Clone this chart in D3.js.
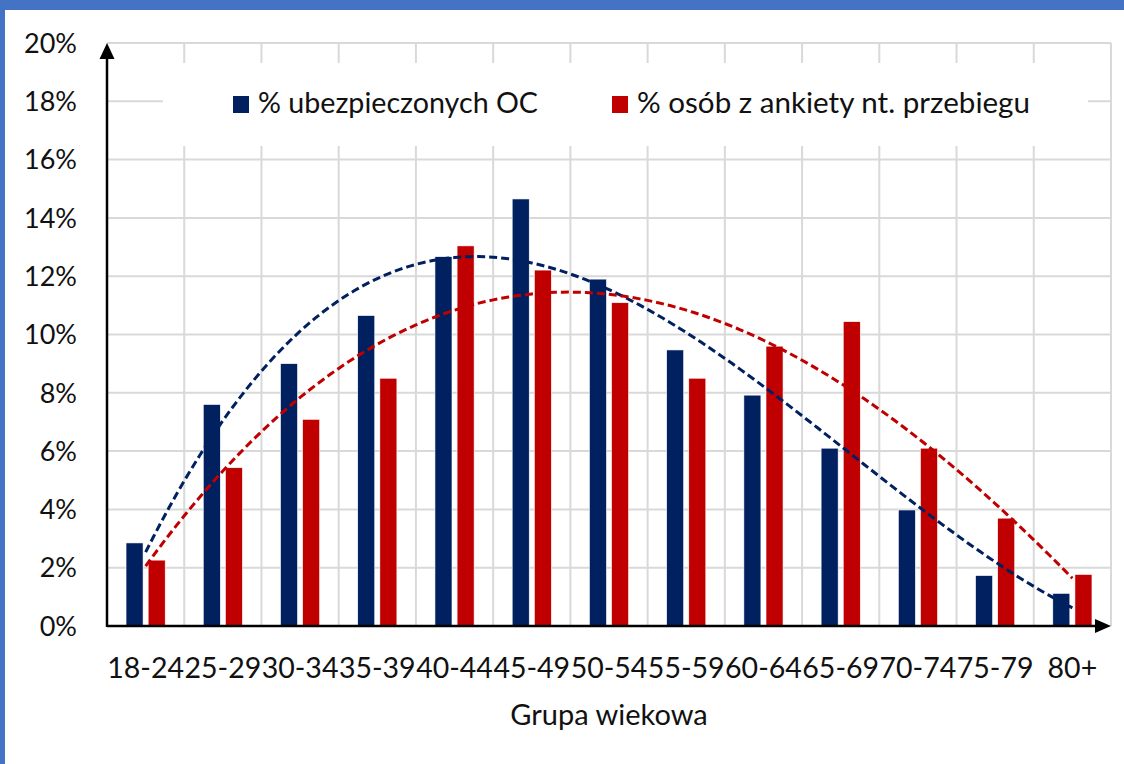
<!DOCTYPE html>
<html lang="pl">
<head>
<meta charset="UTF-8">
<title>Grupa wiekowa</title>
<script src="https://cdn.jsdelivr.net/npm/d3@7"></script>
<style>
  body { margin: 0; background: #4472c4; overflow: hidden; }
  svg { display: block; }
  text { font-family: Lato, "Open Sans", sans-serif; fill: #111; }
</style>
</head>
<body>
<div class="chart"></div>
<script>
const categories = ["18-24", "25-29", "30-34", "35-39", "40-44", "45-49", "50-54",
                    "55-59", "60-64", "65-69", "70-74", "75-79", "80+"];
const insured = [2.85, 7.6, 9.0, 10.65, 12.67, 14.65, 11.9, 9.47, 7.92, 6.1, 3.98, 1.73, 1.12];
const survey  = [2.26, 5.43, 7.09, 8.5, 13.04, 12.21, 11.09, 8.5, 9.6, 10.44, 6.1, 3.7, 1.77];
const seriesNames = ["% ubezpieczonych OC", "% osób z ankiety nt. przebiegu"];
const seriesColors = ["#002060", "#c00000"];
const yTicks = [0, 2, 4, 6, 8, 10, 12, 14, 16, 18, 20];
const xTitle = "Grupa wiekowa";

const width = 1124, height = 764;
const plotLeft = 107, plotRight = 1111, plotTop = 43, plotBottom = 626;

const svg = d3.select(".chart").append("svg")
  .attr("width", width)
  .attr("height", height);

// white panel inside the blue frame
svg.append("rect")
  .attr("x", 5).attr("y", 10)
  .attr("width", width).attr("height", height)
  .attr("fill", "#fff");

const x0 = d3.scaleBand().domain(categories).range([plotLeft, plotRight]);
const x1 = d3.scaleBand().domain([0, 1]).range([0, x0.bandwidth()])
  .paddingInner(0.23).paddingOuter(0.86);
const y = d3.scaleLinear().domain([0, 20]).range([plotBottom, plotTop]);

// grid
const grid = svg.append("g").attr("stroke", "#d9d9d9").attr("stroke-width", 2);
grid.selectAll("line.h")
  .data(yTicks.slice(1))
  .enter().append("line")
  .attr("class", "h")
  .attr("x1", plotLeft).attr("x2", plotRight)
  .attr("y1", d => y(d)).attr("y2", d => y(d));
grid.selectAll("line.v")
  .data(categories)
  .enter().append("line")
  .attr("class", "v")
  .attr("x1", d => x0(d) + x0.bandwidth()).attr("x2", d => x0(d) + x0.bandwidth())
  .attr("y1", y(20)).attr("y2", plotBottom);

// legend box hides the grid behind it
const legend = svg.append("g");
legend.append("rect")
  .attr("x", 163).attr("y", 63)
  .attr("width", 925).attr("height", 83)
  .attr("fill", "#fff");
const legendX = [233, 612];
const legendW = [280, 393];
seriesNames.forEach((name, i) => {
  legend.append("rect")
    .attr("x", legendX[i]).attr("y", 96)
    .attr("width", 16).attr("height", 17)
    .attr("fill", seriesColors[i]);
  legend.append("text")
    .attr("x", legendX[i] + 25).attr("y", 113)
    .attr("font-size", 28.5)
    .attr("textLength", legendW[i])
    .attr("lengthAdjust", "spacingAndGlyphs")
    .text(name);
});

// bars
const series = [insured, survey];
series.forEach((vals, s) => {
  svg.append("g").selectAll("rect")
    .data(vals)
    .enter().append("rect")
    .attr("x", (d, i) => x0(categories[i]) + x1(s))
    .attr("width", x1.bandwidth())
    .attr("y", d => y(d))
    .attr("height", d => plotBottom - y(d))
    .attr("fill", seriesColors[s])
    .attr("stroke", "#fff")
    .attr("stroke-width", 0.6);
});

// polynomial trendlines (least squares, like the spreadsheet's trendline)
function polyFit(ys, order) {
  const n = order + 1;
  const A = Array.from({length: n}, () => new Array(n + 1).fill(0));
  ys.forEach((v, i) => {
    const xv = i + 1;
    for (let r = 0; r < n; r++) {
      for (let c = 0; c < n; c++) A[r][c] += Math.pow(xv, r + c);
      A[r][n] += v * Math.pow(xv, r);
    }
  });
  for (let p = 0; p < n; p++) {
    let m = p;
    for (let r = p + 1; r < n; r++) if (Math.abs(A[r][p]) > Math.abs(A[m][p])) m = r;
    [A[p], A[m]] = [A[m], A[p]];
    for (let r = 0; r < n; r++) {
      if (r === p) continue;
      const f = A[r][p] / A[p][p];
      for (let c = p; c <= n; c++) A[r][c] -= f * A[p][c];
    }
  }
  const coef = A.map((row, i) => row[n] / row[i]);
  return t => coef.reduce((acc, c, k) => acc + c * Math.pow(t, k), 0);
}

const xt = d3.scaleLinear()
  .domain([1, categories.length])
  .range([x0(categories[0]) + x0.bandwidth() / 2,
          x0(categories[categories.length - 1]) + x0.bandwidth() / 2]);
const steps = d3.range(1, categories.length + 0.001, 0.1);
const line = d3.line().x(d => xt(d[0])).y(d => y(d[1]));

series.forEach((vals, s) => {
  const f = polyFit(vals, 3);
  svg.append("path")
    .datum(steps.map(t => [t, f(t)]))
    .attr("d", line)
    .attr("fill", "none")
    .attr("stroke", seriesColors[s])
    .attr("stroke-width", 3)
    .attr("stroke-dasharray", "8,4");
});

// y labels
svg.append("g").selectAll("text")
  .data(yTicks)
  .enter().append("text")
  .attr("x", 77)
  .attr("y", d => y(d))
  .attr("dy", "0.36em")
  .attr("text-anchor", "end")
  .attr("font-size", 27)
  .text(d => d + "%");

// x labels
svg.append("g").selectAll("text")
  .data(categories)
  .enter().append("text")
  .attr("x", d => x0(d) + x0.bandwidth() / 2)
  .attr("y", 678)
  .attr("text-anchor", "middle")
  .attr("font-size", 28.5)
  .text(d => d);

svg.append("text")
  .attr("x", (plotLeft + plotRight) / 2)
  .attr("y", 725)
  .attr("text-anchor", "middle")
  .attr("font-size", 29)
  .text(xTitle);

// axes with arrow heads
const axes = svg.append("g");
axes.append("line")
  .attr("x1", plotLeft).attr("x2", plotRight - 14)
  .attr("y1", plotBottom).attr("y2", plotBottom)
  .attr("stroke", "#000").attr("stroke-width", 2.5);
axes.append("path")
  .attr("d", `M${plotRight},${plotBottom} L${plotRight - 16},${plotBottom - 7} L${plotRight - 16},${plotBottom + 7} Z`)
  .attr("fill", "#000");
axes.append("line")
  .attr("x1", plotLeft).attr("x2", plotLeft)
  .attr("y1", plotBottom + 1).attr("y2", plotTop + 14)
  .attr("stroke", "#000").attr("stroke-width", 2.5);
axes.append("path")
  .attr("d", `M${plotLeft},${plotTop} L${plotLeft - 7.5},${plotTop + 16} L${plotLeft + 7.5},${plotTop + 16} Z`)
  .attr("fill", "#000");
</script>
</body>
</html>
